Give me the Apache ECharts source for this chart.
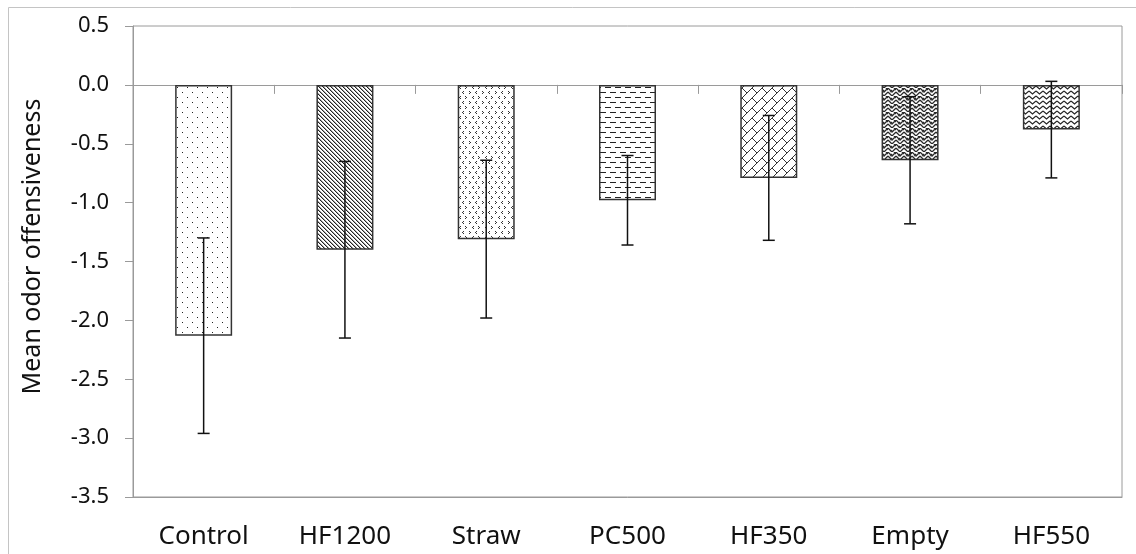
<!DOCTYPE html>
<html>
<head>
<meta charset="utf-8">
<script src="https://cdn.jsdelivr.net/npm/echarts@6/dist/echarts.min.js"></script>
<style>
  html, body { margin: 0; padding: 0; background: #fff; }
  #chart { width: 1136px; height: 554px; }
</style>
</head>
<body>
<div id="chart"></div>
<script>
// data
const categories = ['Control', 'HF1200', 'Straw', 'PC500', 'HF350', 'Empty', 'HF550'];
const means = [-2.13, -1.40, -1.31, -0.98, -0.79, -0.64, -0.38];
const errors = [0.83, 0.75, 0.67, 0.38, 0.53, 0.54, 0.41];

// small canvas tiles used as bar fills
function makeTile(w, h, draw) {
  const c = document.createElement('canvas');
  c.width = w; c.height = h;
  const g = c.getContext('2d');
  g.fillStyle = '#fff';
  g.fillRect(0, 0, w, h);
  g.fillStyle = '#222';
  g.strokeStyle = '#222';
  g.lineWidth = 1;
  draw(g);
  return { image: c, repeat: 'repeat' };
}

const patterns = [
  // dots
  makeTile(10, 10, g => { g.fillRect(2, 2, 1, 1); g.fillRect(7, 7, 1, 1); }),
  // dense back diagonals
  makeTile(4, 4, g => {
    for (let i = 0; i < 4; i++) g.fillRect(i, i, 1, 1);
    g.fillStyle = 'rgba(0,0,0,0.35)';
    for (let i = 0; i < 4; i++) g.fillRect((i + 1) % 4, i, 1, 1);
  }),
  // small < > marks
  makeTile(13, 10, g => {
    g.fillStyle = '#333';
    const gt = (x, y) => { g.fillRect(x, y, 1, 1); g.fillRect(x + 1, y + 1, 1, 1); g.fillRect(x, y + 2, 1, 1); };
    const lt = (x, y) => { g.fillRect(x + 1, y, 1, 1); g.fillRect(x, y + 1, 1, 1); g.fillRect(x + 1, y + 2, 1, 1); };
    gt(1, 1); lt(7, 1); lt(4, 6); gt(10, 6);
  }),
  // horizontal dashes
  makeTile(10, 10, g => { g.fillRect(0, 2, 6, 1); g.fillRect(5, 7, 5, 1); g.fillRect(0, 7, 1, 1); }),
  // diagonal brick
  makeTile(20, 20, g => {
    g.strokeStyle = '#333';
    g.beginPath();
    for (let k = -20; k <= 50; k += 10) { g.moveTo(k + 5, -5); g.lineTo(k - 25, 25); }
    for (let k = -20; k <= 40; k += 10) {
      for (let a = -18; a <= 40; a += 10) {
        g.moveTo(a, k - a); g.lineTo(a + 5, k - a + 5);
      }
    }
    g.stroke();
  }),
  // weave
  makeTile(8, 8, g => {
    g.strokeStyle = '#2a2a2a';
    g.lineWidth = 1.25;
    g.beginPath();
    g.moveTo(0, 0); g.lineTo(4, 4); g.lineTo(8, 0);
    g.moveTo(0, 4); g.lineTo(4, 8); g.lineTo(8, 4);
    g.moveTo(2, 4); g.lineTo(4, 2);
    g.moveTo(6, 0); g.lineTo(8, 2);
    g.stroke();
  }),
  // zigzag waves
  makeTile(7, 5, g => {
    g.lineWidth = 1.1;
    g.beginPath(); g.moveTo(0, 1); g.lineTo(3.5, 4); g.lineTo(7, 1); g.stroke();
  })
];

const barData = means.map((v, i) => ({
  value: v,
  itemStyle: { color: patterns[i] }
}));
const errData = means.map((v, i) => [i, v - errors[i], v + errors[i]]);

const chart = echarts.init(document.getElementById('chart'));
chart.setOption({
  animation: false,
  backgroundColor: '#fff',
  textStyle: { fontFamily: 'Noto Sans' },
  graphic: [{
    type: 'rect',
    shape: { x: 8.5, y: 7.5, width: 1200, height: 600 },
    style: { fill: 'none', stroke: '#c4c4c4', lineWidth: 1 },
    silent: true
  }],
  grid: {
    left: 133, right: 14, top: 26, bottom: 57,
    show: true, borderColor: '#9a9a9a', borderWidth: 1
  },
  xAxis: [{
    type: 'category',
    data: categories,
    position: 'bottom',
    axisLine: { onZero: false, lineStyle: { color: '#9a9a9a' } },
    axisTick: { show: false },
    axisLabel: { color: '#111', fontSize: 26, margin: 27 }
  }, {
    type: 'category',
    data: categories,
    position: 'top',
    axisLine: { onZero: true, lineStyle: { color: '#9a9a9a' } },
    axisTick: { show: true, inside: true, length: 9, lineStyle: { color: '#9a9a9a' } },
    axisLabel: { show: false }
  }],
  yAxis: {
    type: 'value',
    min: -3.5, max: 0.5, interval: 0.5,
    name: 'Mean odor offensiveness',
    nameLocation: 'middle',
    nameGap: 88,
    nameTextStyle: { color: '#111', fontSize: 25, padding: [0, 0, 0, 30] },
    axisLine: { show: true, lineStyle: { color: '#9a9a9a' } },
    axisTick: { show: true, length: 8, lineStyle: { color: '#9a9a9a' } },
    splitLine: { show: false },
    axisLabel: { color: '#111', fontSize: 22, margin: 24, formatter: v => v.toFixed(1) }
  },
  series: [{
    type: 'bar',
    xAxisIndex: 0,
    barWidth: 57,
    data: barData,
    itemStyle: { borderColor: '#333', borderWidth: 1.5 }
  }, {
    type: 'custom',
    xAxisIndex: 0,
    z: 5,
    data: errData,
    renderItem: (params, api) => {
      const lo = api.coord([api.value(0), api.value(1)]);
      const hi = api.coord([api.value(0), api.value(2)]);
      const hw = 6;
      const st = { stroke: '#111', lineWidth: 1.5 };
      return {
        type: 'group',
        children: [
          { type: 'line', shape: { x1: lo[0], y1: lo[1], x2: hi[0], y2: hi[1] }, style: st },
          { type: 'line', shape: { x1: lo[0] - hw, y1: lo[1], x2: lo[0] + hw, y2: lo[1] }, style: st },
          { type: 'line', shape: { x1: hi[0] - hw, y1: hi[1], x2: hi[0] + hw, y2: hi[1] }, style: st }
        ]
      };
    }
  }]
});
</script>
</body>
</html>
